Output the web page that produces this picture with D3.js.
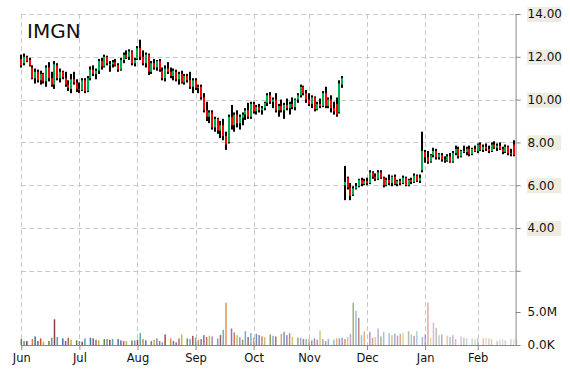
<!DOCTYPE html>
<html>
<head>
<meta charset="utf-8">
<script src="https://cdn.jsdelivr.net/npm/d3@7"></script>
<style>
  body { margin: 0; background: #fff; }
  svg text { font-family: "DejaVu Sans", Verdana, sans-serif; fill: #111; }
</style>
</head>
<body>
<div id="chart"></div>
<script>
// chart size
const W = 570, H = 370;

// ticker + month ticks (trading day index where each month starts)
const ticker = "IMGN";
const monthLabels = ["Jun", "Jul", "Aug", "Sep", "Oct", "Nov", "Dec", "Jan", "Feb"];
const monthIndex = [0, 21, 42, 63, 84, 104, 125, 146, 165];
const priceTicks = [14, 12, 10, 8, 6, 4, 2];
const volTicks = [0, 5];

// daily prices
const opens = [
  11.9, 11.7, 12.0, 11.85, 11.5, 11.0, 11.3, 10.9, 11.2, 10.85, 11.5, 11.0, 10.7, 11.6, 11.0, 11.3, 11.0, 10.7, 10.5, 10.95, 10.8,
  10.5, 10.45, 10.9, 10.4, 11.0, 11.4, 11.2, 11.35, 11.8, 11.55, 12.0, 11.6, 11.65, 11.75, 11.6, 11.4, 11.85, 12.1, 12.0, 12.25, 11.7,
  11.9, 12.4, 12.0, 11.7, 12.1, 11.3, 11.7, 11.5, 11.8, 11.35, 11.0, 11.45, 11.3, 11.1, 11.3, 10.95, 11.2, 10.8, 11.1, 10.9, 10.6,
  10.9, 10.55, 10.6, 10.1, 9.5, 9.2, 9.4, 8.7, 9.1, 8.55, 8.8, 8.3, 8.0, 9.2, 8.8, 9.3, 8.9, 9.15, 9.3, 9.5, 9.2,
  9.8, 9.45, 9.65, 9.5, 9.6, 9.85, 10.2, 9.9, 10.0, 9.5, 9.7, 9.5, 9.75, 9.6, 9.8, 9.65, 10.0, 10.2, 10.6, 10.3,
  10.0, 9.8, 10.1, 9.55, 9.8, 9.7, 10.3, 9.7, 10.0, 9.6, 9.8, 9.4, 10.7, 6.0, 6.35, 5.9, 5.55, 5.85, 5.95, 6.25, 6.05,
  6.2, 6.1, 6.6, 6.4, 6.3, 6.6, 6.35, 6.0, 6.25, 6.1, 6.4, 6.05, 6.2, 6.1, 6.35, 6.0, 6.25, 6.15, 6.45, 6.2, 6.7,
  7.55, 7.3, 7.1, 7.4, 7.6, 7.3, 7.4, 7.2, 7.15, 7.35, 7.1, 7.5, 7.7, 7.35, 7.6, 7.55, 7.7, 7.45, 7.7,
  7.6, 7.9, 7.65, 7.8, 7.7, 7.6, 7.9, 7.75, 7.85, 7.7, 7.55, 7.8, 7.5, 7.9
];
const highs = [
  12.1, 12.15, 12.05, 11.95, 11.6, 11.45, 11.4, 11.35, 11.25, 11.6, 11.75, 11.3, 11.8, 11.7, 11.45, 11.35, 11.3, 10.9, 11.2, 11.3, 10.95,
  10.8, 11.0, 11.0, 11.1, 11.55, 11.6, 11.45, 11.9, 11.95, 12.1, 12.05, 11.8, 11.85, 11.9, 11.7, 11.95, 12.2, 12.3, 12.35, 12.3, 11.95,
  12.5, 12.8, 12.3, 12.2, 12.15, 11.8, 11.9, 11.85, 11.9, 11.5, 11.6, 11.75, 11.5, 11.45, 11.4, 11.3, 11.35, 11.2, 11.2, 11.3, 11.0,
  11.0, 10.7, 10.7, 10.3, 9.9, 9.5, 9.5, 9.2, 9.15, 9.0, 9.1, 8.5, 9.3, 9.75, 9.4, 9.5, 9.3, 9.4, 9.6, 9.85, 9.9,
  9.9, 9.75, 9.8, 9.7, 9.9, 10.3, 10.35, 10.1, 10.3, 9.8, 10.0, 9.85, 10.05, 9.9, 10.1, 10.05, 10.3, 10.7, 10.65, 10.45,
  10.3, 10.2, 10.15, 9.9, 10.05, 10.4, 10.6, 10.1, 10.2, 9.9, 10.1, 10.9, 11.1, 6.9, 6.4, 6.1, 5.95, 6.1, 6.3, 6.35, 6.3,
  6.35, 6.7, 6.65, 6.55, 6.7, 6.7, 6.4, 6.35, 6.5, 6.45, 6.5, 6.25, 6.3, 6.45, 6.4, 6.3, 6.35, 6.55, 6.5, 6.5, 8.5,
  7.65, 7.6, 7.45, 7.75, 7.7, 7.5, 7.5, 7.35, 7.45, 7.5, 7.6, 7.85, 7.8, 7.65, 7.85, 7.8, 7.85, 7.75, 7.85,
  7.95, 8.0, 7.9, 7.95, 7.85, 8.0, 8.05, 7.95, 8.0, 7.8, 7.9, 7.85, 7.7, 8.1
];
const lows = [
  11.5, 11.6, 11.75, 11.55, 10.95, 10.75, 10.8, 10.7, 10.75, 10.6, 10.85, 10.6, 10.5, 10.9, 10.8, 10.95, 10.6, 10.4, 10.3, 10.7, 10.35,
  10.3, 10.4, 10.3, 10.35, 10.9, 11.1, 10.95, 11.2, 11.4, 11.5, 11.6, 11.3, 11.5, 11.55, 11.3, 11.35, 11.7, 11.9, 11.85, 11.6, 11.55,
  11.85, 11.85, 11.6, 11.5, 11.15, 11.2, 11.4, 11.35, 11.3, 10.9, 10.85, 11.2, 11.0, 10.9, 10.85, 10.7, 10.75, 10.7, 10.8, 10.5, 10.3,
  10.45, 10.3, 10.0, 9.4, 9.0, 8.9, 8.6, 8.5, 8.4, 8.2, 8.1, 7.65, 7.95, 8.6, 8.5, 8.7, 8.6, 8.8, 9.05, 9.1, 9.1,
  9.35, 9.3, 9.4, 9.3, 9.5, 9.7, 9.8, 9.6, 9.4, 9.2, 9.4, 9.1, 9.5, 9.3, 9.55, 9.5, 9.85, 10.1, 10.2, 9.85,
  9.7, 9.6, 9.45, 9.5, 9.6, 9.65, 9.6, 9.6, 9.4, 9.3, 9.2, 9.35, 10.55, 5.3, 5.8, 5.3, 5.5, 5.8, 5.9, 5.95, 6.0,
  6.0, 6.05, 6.3, 6.2, 6.25, 6.3, 5.9, 5.95, 6.0, 5.95, 6.0, 5.95, 6.0, 6.05, 5.95, 5.95, 6.05, 6.1, 6.15, 6.1, 6.6,
  7.05, 7.0, 7.05, 7.3, 7.2, 7.2, 7.1, 7.05, 7.1, 7.05, 7.05, 7.4, 7.25, 7.3, 7.5, 7.4, 7.35, 7.4, 7.55,
  7.5, 7.6, 7.55, 7.6, 7.5, 7.55, 7.7, 7.6, 7.65, 7.45, 7.5, 7.4, 7.35, 7.35
];
const closes = [
  11.6, 12.0, 11.8, 11.6, 11.0, 11.3, 10.9, 11.2, 10.85, 11.5, 11.0, 10.7, 11.65, 11.0, 11.3, 11.05, 10.7, 10.55, 10.95, 10.8, 10.5,
  10.45, 10.9, 10.4, 11.0, 11.4, 11.2, 11.35, 11.8, 11.55, 12.0, 11.7, 11.65, 11.75, 11.6, 11.4, 11.85, 12.1, 11.95, 12.25, 11.7, 11.85,
  12.4, 12.0, 11.7, 12.1, 11.3, 11.7, 11.5, 11.8, 11.4, 11.0, 11.45, 11.3, 11.1, 11.35, 10.95, 11.2, 10.8, 11.1, 10.9, 10.6, 10.9,
  10.55, 10.6, 10.1, 9.5, 9.2, 9.4, 8.7, 9.1, 8.55, 8.8, 8.3, 7.9, 9.2, 8.8, 9.3, 8.9, 9.2, 9.3, 9.5, 9.2, 9.8,
  9.45, 9.65, 9.5, 9.6, 9.85, 10.2, 9.9, 10.0, 9.5, 9.7, 9.5, 9.75, 9.6, 9.8, 9.65, 10.0, 10.2, 10.6, 10.3, 10.0,
  9.8, 10.1, 9.55, 9.8, 9.7, 10.3, 9.7, 10.0, 9.6, 9.45, 9.3, 10.75, 11.0, 6.15, 5.9, 5.5, 5.85, 5.95, 6.25, 6.05, 6.2,
  6.1, 6.6, 6.4, 6.3, 6.6, 6.35, 6.0, 6.25, 6.1, 6.4, 6.05, 6.2, 6.1, 6.35, 6.0, 6.25, 6.15, 6.45, 6.2, 6.35, 7.6,
  7.3, 7.1, 7.4, 7.6, 7.3, 7.45, 7.2, 7.15, 7.35, 7.1, 7.5, 7.7, 7.35, 7.6, 7.55, 7.7, 7.45, 7.7, 7.6,
  7.9, 7.65, 7.8, 7.7, 7.6, 7.9, 7.75, 7.85, 7.7, 7.55, 7.8, 7.5, 7.45, 7.4
];
// daily volume, millions of shares
const volumes = [
  0.9, 0.6, 0.6, 0.0, 0.9, 1.3, 0.6, 1.0, 0.5, 0.0, 0.6, 1.1, 3.9, 1.2, 0.0, 1.0, 0.6, 1.1, 0.8, 0.0, 0.7,
  0.6, 0.5, 1.0, 0.0, 1.1, 1.0, 0.8, 0.7, 0.0, 0.9, 0.9, 0.8, 0.9, 0.0, 0.9, 0.7, 0.6, 0.6, 0.0, 0.7, 0.7,
  0.8, 1.8, 0.9, 0.7, 0.0, 0.6, 0.8, 1.0, 0.6, 0.4, 1.6, 0.0, 1.0, 0.6, 0.4, 1.0, 1.6, 0.0, 1.0, 0.9, 1.4,
  1.1, 0.8, 0.9, 1.5, 1.2, 1.4, 1.3, 0.0, 1.0, 1.5, 2.3, 6.4, 0.0, 2.5, 1.9, 1.5, 1.2, 0.8, 2.1, 1.2, 1.8,
  1.1, 1.7, 1.5, 1.3, 1.2, 0.0, 1.6, 1.4, 1.3, 0.0, 1.7, 2.0, 1.5, 1.8, 1.2, 0.0, 1.1, 1.1, 0.9, 0.9,
  0.9, 0.7, 1.0, 0.8, 2.2, 0.9, 0.6, 0.9, 0.0, 0.8, 1.0, 1.0, 1.1, 0.9, 1.2, 1.7, 6.4, 5.2, 4.1, 1.5, 2.1, 0.0, 2.0,
  1.1, 1.2, 2.5, 1.3, 2.0, 0.0, 1.8, 1.5, 1.7, 1.4, 1.7, 1.8, 0.0, 2.1, 1.6, 1.4, 2.1, 0.0, 1.2, 1.6, 6.4,
  1.1, 3.4, 2.6, 1.5, 1.6, 0.0, 1.4, 1.2, 1.5, 0.9, 0.0, 1.3, 1.1, 1.0, 0.0, 1.0, 0.9, 1.0, 0.0,
  1.0, 1.1, 1.0, 0.9, 0.0, 0.6, 0.8, 0.9, 0.7, 0.0, 0.9, 0.9, 0.8, 0.0
];

// colours cycled by the volume bars
const volColors = ["#6b7f2a", "#5a8fc8", "#8c3b3b", "#4aa0b8", "#e07b22", "#3b6fb0", "#7a4f9a", "#c4503e", "#a8b83a", "#9a6ab0"];

const svg = d3.select("#chart").append("svg")
  .attr("width", W)
  .attr("height", H);

const x = d3.scaleLinear().domain([0, 178.7]).range([21.3, 515.6]);
const y = d3.scaleLinear().domain([2, 14]).range([270.8, 14]);
const yv = d3.scaleLinear().domain([0, 5]).range([345, 312]);

const plotLeft = x.range()[0], plotRight = x.range()[1];
const plotTop = y(14), plotBottom = yv(0);

// grid
const grid = svg.append("g")
  .attr("stroke", "#c8c8c8")
  .attr("stroke-dasharray", "5,3");
grid.selectAll(".hg").data(priceTicks).enter().append("line")
  .attr("x1", plotLeft).attr("x2", plotRight)
  .attr("y1", d => Math.round(y(d)) + 0.5).attr("y2", d => Math.round(y(d)) + 0.5);
grid.selectAll(".vg").data(monthIndex).enter().append("line")
  .attr("x1", d => Math.round(x(d)) + 0.5).attr("x2", d => Math.round(x(d)) + 0.5)
  .attr("y1", plotTop).attr("y2", plotBottom);

// volume bars
svg.append("g").selectAll("rect").data(volumes).enter().append("rect")
  .attr("x", (d, i) => x(i) - 0.75)
  .attr("width", 1.5)
  .attr("y", d => yv(d))
  .attr("height", d => plotBottom - yv(d))
  .attr("fill", (d, i) => volColors[i % volColors.length])
  .attr("opacity", (d, i) => 1 - 0.72 * Math.pow(i / volumes.length, 1.5));

// candles
const candles = svg.append("g").selectAll("g").data(closes).enter().append("g");
candles.append("rect")
  .attr("x", (d, i) => Math.round(x(i)) - 1)
  .attr("width", 2)
  .attr("y", (d, i) => y(highs[i]))
  .attr("height", (d, i) => Math.max(1, y(lows[i]) - y(highs[i])))
  .attr("fill", "#000");
candles.append("rect")
  .attr("x", (d, i) => Math.round(x(i)) - 1)
  .attr("width", 2)
  .attr("y", (d, i) => y(Math.max(opens[i], d)))
  .attr("height", (d, i) => Math.max(1, Math.abs(y(opens[i]) - y(d))))
  .attr("fill", (d, i) => d >= opens[i] ? "#00b050" : "#ff0000");

// right price axis
const yAxis = svg.append("g")
  .attr("transform", `translate(${plotRight},0)`)
  .call(d3.axisRight(y).tickValues(priceTicks).tickSize(5).tickPadding(7)
    .tickFormat(d => d === 2 ? "" : d3.format(".2f")(d)));
yAxis.select(".domain").remove();
yAxis.selectAll("line").attr("stroke", "#888");
yAxis.selectAll(".tick").filter(d => d !== 2).insert("rect", "text")
  .attr("x", 11.5).attr("y", -7.5).attr("width", 34).attr("height", 15)
  .attr("fill", "#eeece1");
yAxis.selectAll("text").style("font-size", "12px").attr("fill", "#111");

// right volume axis
const vAxis = svg.append("g")
  .attr("transform", `translate(${plotRight},0)`)
  .call(d3.axisRight(yv).tickValues(volTicks).tickSize(5).tickPadding(7)
    .tickFormat(d => d === 0 ? "0.0K" : d3.format(".1f")(d) + "M"));
vAxis.select(".domain").remove();
vAxis.selectAll("line").attr("stroke", "#888");
vAxis.selectAll("text").style("font-size", "12px").attr("fill", "#111");

svg.append("line")
  .attr("x1", plotRight + 0.5).attr("x2", plotRight + 0.5)
  .attr("y1", plotTop).attr("y2", plotBottom)
  .attr("stroke", "#888");

// bottom month axis
const xAxis = svg.append("g")
  .attr("transform", `translate(0,${plotBottom})`)
  .call(d3.axisBottom(x).tickValues(monthIndex).tickSize(5).tickPadding(4)
    .tickFormat((d, i) => monthLabels[i]));
xAxis.select(".domain").attr("stroke", "#888").attr("d", `M${plotLeft},0.5H${plotRight}`);
xAxis.selectAll("line").attr("stroke", "#888");
xAxis.selectAll("text").style("font-size", "11.5px").attr("fill", "#111");

// ticker title
svg.append("text")
  .attr("x", 27)
  .attr("y", 37.5)
  .style("font-size", "20px")
  .text(ticker);
</script>
</body>
</html>
